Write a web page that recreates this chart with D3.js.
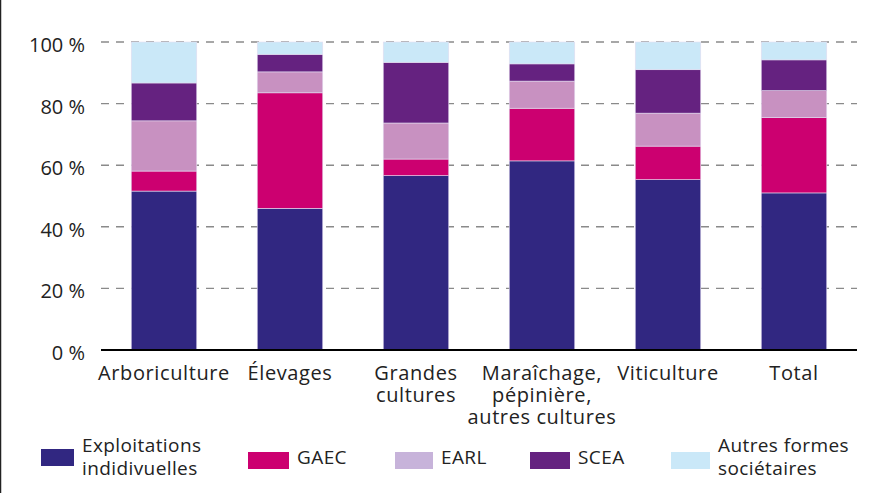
<!DOCTYPE html>
<html>
<head>
<meta charset="utf-8">
<script src="https://cdn.jsdelivr.net/npm/d3@7"></script>
<style>
  body { margin: 0; background: #fff; }
  svg { display: block; font-family: "Open Sans", sans-serif; }
</style>
</head>
<body>
<svg width="873" height="493"></svg>
<script>
// categories and shares (%)
var categories = ["Arboriculture", "Élevages", "Grandes cultures", "Maraîchage, pépinière, autres cultures", "Viticulture", "Total"];
var catLines = [["Arboriculture"], ["Élevages"], ["Grandes", "cultures"], ["Maraîchage,", "pépinière,", "autres cultures"], ["Viticulture"], ["Total"]];
var indiv  = [51.6, 46.0, 56.6, 61.4, 55.3, 51.0];
var gaec   = [6.5, 37.5, 5.4, 17.1, 10.9, 24.5];
var earl   = [16.3, 6.8, 11.7, 8.8, 10.7, 8.7];
var scea   = [12.3, 5.7, 19.7, 5.6, 14.1, 10.0];
var autres = [13.3, 4.0, 6.6, 7.1, 9.0, 5.8];
var yTicks = [0, 20, 40, 60, 80, 100];

var keys = ["indiv", "gaec", "earl", "scea", "autres"];
var legendLabels = [["Exploitations", "indidivuelles"], ["GAEC"], ["EARL"], ["SCEA"], ["Autres formes", "sociétaires"]];
var colors = ["#312781", "#cc0070", "#c891c1", "#652280", "#cae8f8"];
var legendColors = ["#312781", "#cc0070", "#c7b3da", "#652280", "#cae8f8"];

var rows = categories.map(function(c, i) {
  return {cat: c, indiv: indiv[i], gaec: gaec[i], earl: earl[i], scea: scea[i], autres: autres[i]};
});

var svg = d3.select("svg");
var x = d3.scaleBand().domain(categories).range([101, 857]).paddingInner(0.48).paddingOuter(0.24);
var y = d3.scaleLinear().domain([0, 100]).range([350, 42]);

// left frame line
svg.append("line").attr("x1", 0.5).attr("x2", 0.5).attr("y1", 0).attr("y2", 493)
    .attr("stroke", "#222").attr("stroke-width", 1.5);

// grid
svg.append("g").selectAll("line")
  .data(yTicks.filter(function(d) { return d > 0; }))
  .enter().append("line")
    .attr("x1", 101).attr("x2", 857)
    .attr("y1", function(d) { return y(d); })
    .attr("y2", function(d) { return y(d); })
    .attr("stroke", "#8a8a8a")
    .attr("stroke-width", 1.4)
    .attr("stroke-dasharray", "8,7");

// y labels
svg.append("g").selectAll("text")
  .data(yTicks)
  .enter().append("text")
    .attr("x", 85)
    .attr("y", function(d) { return y(d) + 10; })
    .attr("text-anchor", "end")
    .attr("font-size", 20)
    .attr("fill", "#222")
    .text(function(d) { return d + " %"; });

// stacked bars
var series = d3.stack().keys(keys)(rows);
svg.append("g").selectAll("g")
  .data(series)
  .enter().append("g")
    .attr("fill", function(d, i) { return colors[i]; })
  .selectAll("rect")
  .data(function(d) { return d; })
  .enter().append("rect")
    .attr("x", function(d) { return x(d.data.cat); })
    .attr("width", x.bandwidth())
    .attr("y", function(d) { return y(d[1]); })
    .attr("height", function(d) { return y(d[0]) - y(d[1]); })
    .attr("stroke", "#e4dcf0")
    .attr("stroke-width", 0.6);

// baseline
svg.append("line").attr("x1", 101).attr("x2", 857).attr("y1", y(0)).attr("y2", y(0))
    .attr("stroke", "#000").attr("stroke-width", 2.2);

// x labels
var xl = svg.append("g").selectAll("text")
  .data(categories)
  .enter().append("text")
    .attr("text-anchor", "middle")
    .attr("font-size", 20)
    .attr("letter-spacing", 0.6)
    .attr("fill", "#222")
    .attr("x", function(d) { return x(d) + x.bandwidth() / 2; })
    .attr("y", 380);
xl.selectAll("tspan")
  .data(function(d, i) { return catLines[i]; })
  .enter().append("tspan")
    .attr("x", function() { return d3.select(this.parentNode).attr("x"); })
    .attr("dy", function(d, i) { return i === 0 ? 0 : 22; })
    .text(function(d) { return d; });

// legend
var legX = [41, 248, 395, 530, 671];
var legW = [33, 41, 38, 40, 39];
var lg = svg.append("g").selectAll("g")
  .data(keys)
  .enter().append("g")
    .attr("transform", function(d, i) { return "translate(" + legX[i] + ",0)"; });
lg.append("rect")
    .attr("y", function(d, i) { return i === 0 ? 449 : 452; })
    .attr("width", function(d, i) { return legW[i]; })
    .attr("height", 17)
    .attr("fill", function(d, i) { return legendColors[i]; });
lg.append("text")
    .attr("font-size", 19)
    .attr("letter-spacing", 0.4)
    .attr("fill", "#222")
    .attr("y", function(d, i) { return legendLabels[i].length > 1 ? 452 : 464; })
  .selectAll("tspan")
  .data(function(d, i) { return legendLabels[i]; })
  .enter().append("tspan")
    .attr("x", function() { return legW[keys.indexOf(d3.select(this.parentNode.parentNode).datum())] + 8; })
    .attr("dy", function(d, i) { return i === 0 ? 0 : 23; })
    .text(function(d) { return d; });
</script>
</body>
</html>
